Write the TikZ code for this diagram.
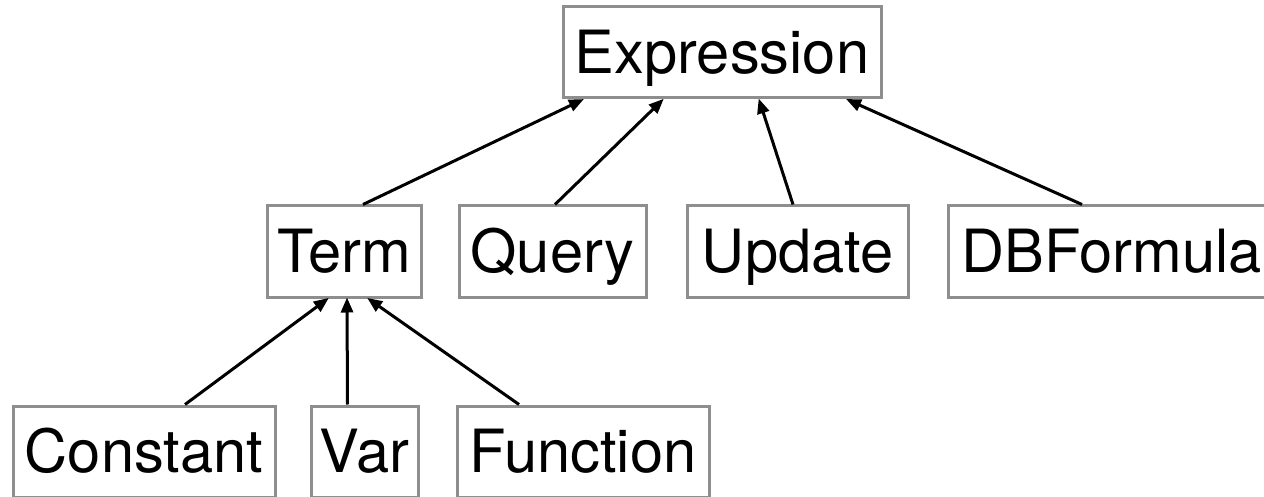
\documentclass[tikz,border=0pt]{standalone}
\usepackage{fontspec}
\setmainfont{TeX Gyre Heros}
\usetikzlibrary{arrows.meta}
\definecolor{boxgray}{HTML}{8E8E8E}
\tikzset{
  cls/.style={draw=boxgray, line width=3pt, inner sep=0pt,
    minimum height=91pt, text height=42.8pt, text depth=0pt,
    font=\fontsize{59.6}{70}\selectfont},
  inherit/.style={draw=black, line width=3pt,
    -{Triangle[length=15pt,width=12pt]}, shorten >=-1pt}
}
\begin{document}
\begin{tikzpicture}[x=1pt, y=-1pt]
  \clip (0,0) rectangle (1264,497);
  \fill[white] (0,0) rectangle (1264,497);

  % top level
  \node[cls, minimum width=318pt] (expr) at (722,52.5) {Expression};

  % second level
  \node[cls, minimum width=154pt] (term)   at (344,251.5)   {Term};
  \node[cls, minimum width=187pt] (query)  at (552.5,251.5) {Query};
  \node[cls, minimum width=221pt] (update) at (797.5,251.5) {Update};
  \node[cls, minimum width=327pt] (dbf)    at (1111.5,251.5) {DBFormula};

  % third level
  \node[cls, minimum width=262pt] (const) at (144,451.5)   {Constant};
  \node[cls, minimum width=107pt] (var)   at (364.5,451.5) {Var};
  \node[cls, minimum width=252pt] (func)  at (583,451.5)   {Function};

  % subclass links
  \draw[inherit] ([xshift=19pt]term.north)    -- ([xshift=-139pt]expr.south);
  \draw[inherit] ([xshift=2.5pt]query.north)  -- ([xshift=-59pt]expr.south);
  \draw[inherit] ([xshift=-4.5pt]update.north) -- ([xshift=37pt]expr.south);
  \draw[inherit] ([xshift=-29.5pt]dbf.north)  -- ([xshift=125pt]expr.south);

  \draw[inherit] ([xshift=41pt]const.north)   -- ([xshift=-16pt]term.south);
  \draw[inherit] ([xshift=-17pt]var.north)    -- ([xshift=3pt]term.south);
  \draw[inherit] ([xshift=-64pt]func.north)   -- ([xshift=24pt]term.south);
\end{tikzpicture}
\end{document}
